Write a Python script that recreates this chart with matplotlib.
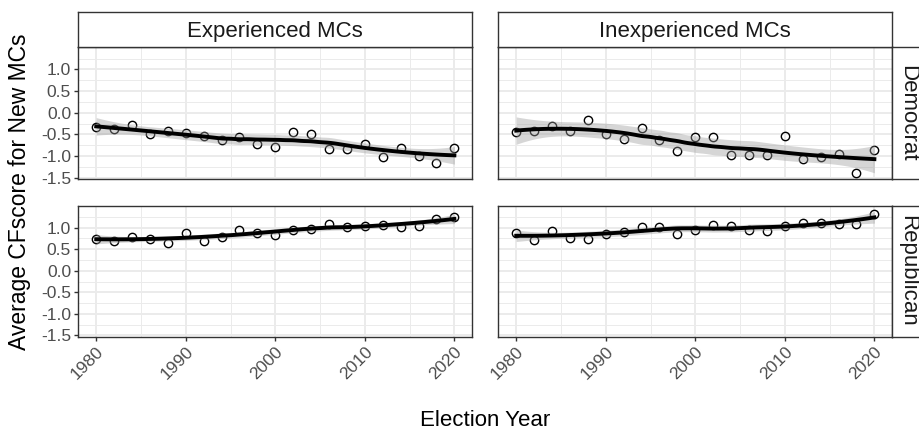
import numpy as np
import matplotlib
matplotlib.use('Agg')
import matplotlib.pyplot as plt

plt.rcParams['font.family'] = ['Liberation Sans', 'DejaVu Sans']
plt.rcParams['axes.unicode_minus'] = False

# election years, one point every two years
years = np.arange(1980, 2021, 2)

# average CFscore of new members, by party and experience
exp_dem = [-0.34, -0.38, -0.29, -0.49, -0.42, -0.47, -0.53, -0.62, -0.55, -0.72, -0.78,
           -0.45, -0.49, -0.83, -0.83, -0.71, -1.01, -0.82, -0.99, -1.16, -0.81]
inexp_dem = [-0.44, -0.43, -0.30, -0.41, -0.16, -0.48, -0.60, -0.36, -0.63, -0.89, -0.55,
             -0.57, -0.98, -0.97, -0.98, -0.54, -1.06, -1.01, -0.95, -1.39, -0.86]
exp_rep = [0.74, 0.70, 0.78, 0.74, 0.65, 0.87, 0.70, 0.79, 0.95, 0.87, 0.83,
           0.95, 0.96, 1.08, 1.02, 1.03, 1.05, 1.01, 1.03, 1.19, 1.25]
inexp_rep = [0.87, 0.71, 0.93, 0.77, 0.74, 0.85, 0.91, 1.01, 1.01, 0.86, 0.94,
             1.07, 1.04, 0.95, 0.93, 1.04, 1.10, 1.11, 1.08, 1.08, 1.32]

col_labels = ['Experienced MCs', 'Inexperienced MCs']
row_labels = ['Democrat', 'Republican']
x_ticks = [1980, 1990, 2000, 2010, 2020]
x_minor = [1985, 1995, 2005, 2015]
y_ticks = [-1.5, -1.0, -0.5, 0.0, 0.5, 1.0]
y_minor = [-1.25, -0.75, -0.25, 0.25, 0.75, 1.25]

panels = [[exp_dem, inexp_dem], [exp_rep, inexp_rep]]


def loess(x, y, grid, span=0.75):
    """local quadratic fit with tricube weights, plus 95% band"""
    x = np.asarray(x, float)
    y = np.asarray(y, float)
    n = len(x)
    q = int(np.floor(n * span))

    def row(x0):
        d = np.abs(x - x0)
        h = np.sort(d)[q - 1] * 1.0001
        u = np.clip(d / h, 0, 1)
        w = (1 - u ** 3) ** 3
        X = np.column_stack([np.ones(n), x - x0, (x - x0) ** 2])
        XtW = X.T * w
        return np.linalg.solve(XtW @ X, XtW)[0]

    L = np.array([row(v) for v in x])
    G = np.array([row(v) for v in grid])
    fit = G @ y
    M = np.eye(n) - L
    R = M.T @ M
    d1 = np.trace(R)
    d2 = np.trace(R @ R)
    sigma = np.sqrt(np.sum((M @ y) ** 2) / d1)
    se = sigma * np.sqrt(np.sum(G ** 2, axis=1))
    df = d1 ** 2 / d2
    z = 1.959964
    t = (z + (z ** 3 + z) / (4 * df)
         + (5 * z ** 5 + 16 * z ** 3 + 3 * z) / (96 * df ** 2)
         + (3 * z ** 7 + 19 * z ** 5 + 17 * z ** 3 - 15 * z) / (384 * df ** 3))
    return fit, fit - t * se, fit + t * se


grid = np.linspace(years.min(), years.max(), 120)
fits = [[loess(years, v, grid) for v in r] for r in panels]

# shared y range with 5% padding
lo_all = min(min(min(v) for v in r) for r in panels)
hi_all = max(max(max(v) for v in r) for r in panels)
lo_all = min(lo_all, min(f[1].min() for r in fits for f in r))
hi_all = max(hi_all, max(f[2].max() for r in fits for f in r))
pad = 0.05 * (hi_all - lo_all)
ylim = (lo_all - pad, hi_all + pad)
xlim = (1978, 2022)

W, H = 920, 433
fig = plt.figure(figsize=(W / 100, H / 100), dpi=100)


def box(x0, y0, x1, y1):
    # pixel box (top-left origin) -> figure fraction rect
    return [x0 / W, 1 - y1 / H, (x1 - x0) / W, (y1 - y0) / H]


col_x = [(78.3, 472.3), (498.3, 892.3)]
row_y = [(47.3, 179.0), (205.7, 336.7)]
dark = '#333333'

for i in range(2):
    for j in range(2):
        ax = fig.add_axes(box(col_x[j][0], row_y[i][0], col_x[j][1], row_y[i][1]))
        vals = panels[i][j]
        fit, lo, hi = fits[i][j]
        ax.plot(years, vals, 'o', mfc='none', mec='black', ms=6.0, mew=1.0, zorder=3)
        ax.fill_between(grid, lo, hi, color='#999999', alpha=0.4, lw=0, zorder=4)
        ax.plot(grid, fit, color='black', lw=2.8, zorder=5)

        ax.set_xlim(xlim)
        ax.set_ylim(ylim)
        ax.set_xticks(x_ticks)
        ax.set_xticks(x_minor, minor=True)
        ax.set_yticks(y_ticks)
        ax.set_yticks(y_minor, minor=True)
        ax.grid(True, which='major', color='#EBEBEB', lw=1.4, zorder=0)
        ax.grid(True, which='minor', color='#EBEBEB', lw=0.7, zorder=0)
        ax.set_axisbelow(True)
        for s in ax.spines.values():
            s.set_color(dark)
            s.set_linewidth(1.0)
        ax.tick_params(which='minor', length=0)
        ax.tick_params(which='major', direction='out', length=3, width=1.0,
                       color=dark, labelcolor='#4D4D4D', labelsize=12.6, pad=2.2)

        if j == 0:
            ax.set_yticklabels([f'{v:.1f}' for v in y_ticks])
        else:
            ax.tick_params(axis='y', which='major', length=0, labelleft=False)
        if i == 1:
            ax.set_xticklabels([str(v) for v in x_ticks], rotation=45,
                               ha='right', va='top', rotation_mode='anchor')
        else:
            ax.tick_params(axis='x', which='major', length=0, labelbottom=False)

# facet strips
for j in range(2):
    sx = fig.add_axes(box(col_x[j][0], 12.3, col_x[j][1], 47.3))
    sx.set_xticks([])
    sx.set_yticks([])
    for s in sx.spines.values():
        s.set_color(dark)
        s.set_linewidth(1.0)
    sx.text(0.5, 0.45, col_labels[j], transform=sx.transAxes, ha='center',
            va='center', fontsize=16, color='#1A1A1A')

for i in range(2):
    sy = fig.add_axes(box(892.3, row_y[i][0], 927.3, row_y[i][1]))
    sy.set_xticks([])
    sy.set_yticks([])
    for s in sy.spines.values():
        s.set_color(dark)
        s.set_linewidth(1.0)
    sy.text(0.45, 0.5, row_labels[i], transform=sy.transAxes, ha='center',
            va='center', rotation=-90, fontsize=16, color='#1A1A1A')

fig.text(20 / W, 1 - 192 / H, 'Average CFscore for New MCs', rotation=90,
         ha='center', va='center', fontsize=16.5)
fig.text(485.3 / W, 1 - 426 / H, 'Election Year', ha='center', va='baseline',
         fontsize=16)

fig.savefig('out.png', dpi=100)
